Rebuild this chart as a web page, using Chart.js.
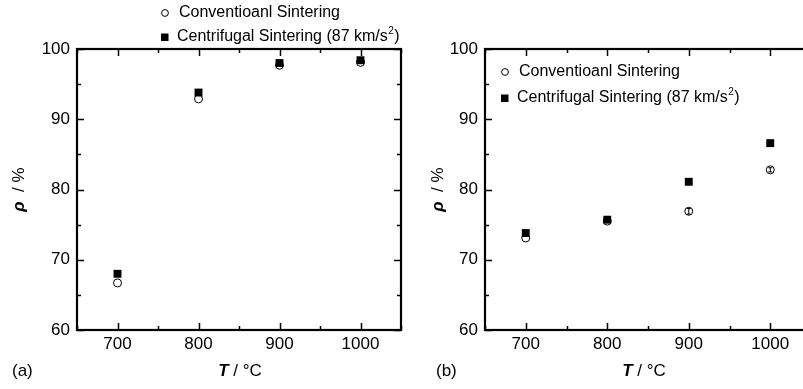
<!DOCTYPE html>
<html>
<head>
<meta charset="utf-8">
<script src="https://cdn.jsdelivr.net/npm/chart.js@4.4.1/dist/chart.umd.min.js"></script>
<style>
  html, body { margin: 0; padding: 0; background: #fff; overflow: hidden; width: 803px; height: 389px; }
  .panel { position: absolute; top: 0; width: 410px; height: 389px; }
  #pa { left: 0; }
  #pb { left: 410px; }
</style>
</head>
<body>
<div class="panel" id="pa"><canvas id="chartA" width="410" height="389"></canvas></div>
<div class="panel" id="pb"><canvas id="chartB" width="410" height="389"></canvas></div>
<script>
// data
const temps = [700, 800, 900, 1000];
const convA = [66.7, 92.9, 97.7, 98.1];
const centA = [68.0, 93.8, 98.0, 98.4];
const convB = [73.1, 75.5, 76.9, 82.8];
const centB = [73.8, 75.7, 81.1, 86.6];
const convBErr = [0, 0, 0.4, 0.3];
const xTickLabels = [700, 800, 900, 1000];
const yTickLabels = [60, 70, 80, 90, 100];
const seriesNames = ['Conventioanl Sintering', 'Centrifugal Sintering (87 km/s\u00B2)'];

const FONT = '"Liberation Sans", Arial, sans-serif';

// inward ticks + box frame
const framePlugin = {
  id: 'frame',
  afterDraw(chart) {
    const ctx = chart.ctx, a = chart.chartArea;
    const xs = chart.scales.x, ys = chart.scales.y;
    ctx.save();
    ctx.strokeStyle = '#000';
    ctx.lineWidth = 1.5;
    xs.ticks.forEach(t => {
      const px = Math.round(xs.getPixelForValue(t.value)) + 0.5;
      const len = t.value % 100 === 0 ? 7 : 4;
      ctx.beginPath();
      ctx.moveTo(px, a.bottom); ctx.lineTo(px, a.bottom - len);
      ctx.moveTo(px, a.top); ctx.lineTo(px, a.top + len);
      ctx.stroke();
    });
    ys.ticks.forEach(t => {
      const py = Math.round(ys.getPixelForValue(t.value)) + 0.5;
      const len = t.value % 10 === 0 ? 7 : 4;
      ctx.beginPath();
      ctx.moveTo(a.left, py); ctx.lineTo(a.left + len, py);
      ctx.moveTo(a.right, py); ctx.lineTo(a.right - len, py);
      ctx.stroke();
    });
    ctx.lineWidth = 2.2;
    ctx.strokeRect(a.left, a.top, a.right - a.left, a.bottom - a.top);
    ctx.restore();
  }
};

// small error bars
const errPlugin = {
  id: 'errs',
  afterDatasetsDraw(chart) {
    const ctx = chart.ctx, ys = chart.scales.y;
    chart.data.datasets.forEach((ds, i) => {
      if (!ds.errs) return;
      const meta = chart.getDatasetMeta(i);
      meta.data.forEach((pt, j) => {
        const e = ds.errs[j];
        if (!e) return;
        const v = ds.data[j].y;
        const y1 = ys.getPixelForValue(v - e), y2 = ys.getPixelForValue(v + e);
        ctx.save();
        ctx.strokeStyle = '#000';
        ctx.lineWidth = 1;
        ctx.beginPath();
        ctx.moveTo(pt.x, y1); ctx.lineTo(pt.x, y2);
        ctx.moveTo(pt.x - 2, y1); ctx.lineTo(pt.x + 2, y1);
        ctx.moveTo(pt.x - 2, y2); ctx.lineTo(pt.x + 2, y2);
        ctx.stroke();
        ctx.restore();
      });
    });
  }
};

// text with a raised "²"
function supText(ctx, str, x, y, size) {
  const parts = str.split('\u00B2');
  ctx.font = size + 'px ' + FONT;
  ctx.fillText(parts[0], x, y);
  if (parts.length < 2) return;
  let cx = x + ctx.measureText(parts[0]).width;
  ctx.font = Math.round(size * 0.62) + 'px ' + FONT;
  ctx.fillText('2', cx + 0.5, y - size * 0.38);
  cx += ctx.measureText('2').width + 1;
  ctx.font = size + 'px ' + FONT;
  ctx.fillText(parts[1], cx, y);
}

// legend, axis titles and panel letter
const textPlugin = {
  id: 'texts',
  afterDraw(chart, args, o) {
    const ctx = chart.ctx;
    ctx.save();
    ctx.fillStyle = '#000';
    ctx.textBaseline = 'middle';
    // legend
    ctx.beginPath();
    ctx.arc(o.legX, o.legY, 3.4, 0, Math.PI * 2);
    ctx.fillStyle = '#fff'; ctx.fill();
    ctx.strokeStyle = '#000'; ctx.lineWidth = 1; ctx.stroke();
    ctx.fillStyle = '#000';
    supText(ctx, seriesNames[0], o.legX + 14, o.legY, 16);
    ctx.fillRect(o.legX - 4, o.legY + o.legDy - 3.5, 7.5, 7.5);
    supText(ctx, seriesNames[1], o.legX + 12, o.legY + o.legDy, 16);

    // x title
    ctx.font = 'bold italic 17px ' + FONT;
    const w1 = ctx.measureText('T').width;
    ctx.font = '17px ' + FONT;
    const w2 = ctx.measureText(' / \u00B0C').width;
    let x0 = o.xTitleX - (w1 + w2) / 2;
    ctx.font = 'bold italic 17px ' + FONT;
    ctx.fillText('T', x0, o.titleY);
    ctx.font = '17px ' + FONT;
    ctx.fillText(' / \u00B0C', x0 + w1, o.titleY);

    // y title
    ctx.translate(o.yTitleX, (chart.chartArea.top + chart.chartArea.bottom) / 2);
    ctx.rotate(-Math.PI / 2);
    ctx.font = 'bold italic 17px ' + FONT;
    const r1 = ctx.measureText('\u03C1').width;
    ctx.font = '17px ' + FONT;
    const r2 = ctx.measureText('  / %').width;
    x0 = -(r1 + r2) / 2;
    ctx.font = 'bold italic 17px ' + FONT;
    ctx.fillText('\u03C1', x0, 0);
    ctx.font = '17px ' + FONT;
    ctx.fillText('  / %', x0 + r1, 0);
    ctx.setTransform(1, 0, 0, 1, 0, 0);

    // panel letter
    ctx.font = '17px ' + FONT;
    ctx.fillText(o.letter, o.letterX, o.titleY);
    ctx.restore();
  }
};

function makeChart(id, conv, cent, cfg) {
  return new Chart(document.getElementById(id), {
    type: 'scatter',
    data: {
      datasets: [
        {
          label: seriesNames[0],
          data: temps.map((t, i) => ({ x: t, y: conv[i] })),
          pointStyle: 'circle',
          pointRadius: 4,
          backgroundColor: '#fff',
          borderColor: '#000',
          borderWidth: 1,
          errs: cfg.errs,
          order: 1
        },
        {
          label: seriesNames[1],
          data: temps.map((t, i) => ({ x: t, y: cent[i] })),
          pointStyle: 'rect',
          pointRadius: 5.6,
          backgroundColor: '#000',
          borderColor: '#000',
          borderWidth: 0,
          order: 0
        }
      ]
    },
    options: {
      responsive: false,
      animation: false,
      events: [],
      layout: { padding: { left: 0, right: cfg.padRight, top: 49, bottom: 0 } },
      plugins: {
        legend: { display: false },
        tooltip: { enabled: false },
        texts: cfg.texts
      },
      scales: {
        x: {
          type: 'linear',
          min: 650, max: 1050,
          grid: { display: false, drawTicks: false },
          border: { display: false },
          ticks: {
            stepSize: 50,
            autoSkip: false,
            maxRotation: 0,
            padding: 4,
            color: '#000',
            font: { family: FONT, size: 17 },
            callback: v => xTickLabels.includes(v) ? String(v) : ''
          },
          afterFit: s => { s.height = 59; }
        },
        y: {
          type: 'linear',
          min: 60, max: 100,
          grid: { display: false, drawTicks: false },
          border: { display: false },
          ticks: {
            stepSize: 5,
            autoSkip: false,
            padding: 7,
            color: '#000',
            font: { family: FONT, size: 17 },
            callback: v => yTickLabels.includes(v) ? String(v) : ''
          },
          afterFit: s => { s.width = cfg.yWidth; }
        }
      }
    },
    plugins: [framePlugin, errPlugin, textPlugin]
  });
}

makeChart('chartA', convA, centA, {
  padRight: 9, yWidth: 77, errs: null,
  texts: { legX: 165, legY: 13, legDy: 24, xTitleX: 240, titleY: 371, yTitleX: 19, letter: '(a)', letterX: 12 }
});
makeChart('chartB', convB, centB, {
  padRight: 9, yWidth: 75, errs: convBErr,
  texts: { legX: 95, legY: 72, legDy: 26, xTitleX: 234, titleY: 371, yTitleX: 28, letter: '(b)', letterX: 26 }
});
</script>
</body>
</html>
